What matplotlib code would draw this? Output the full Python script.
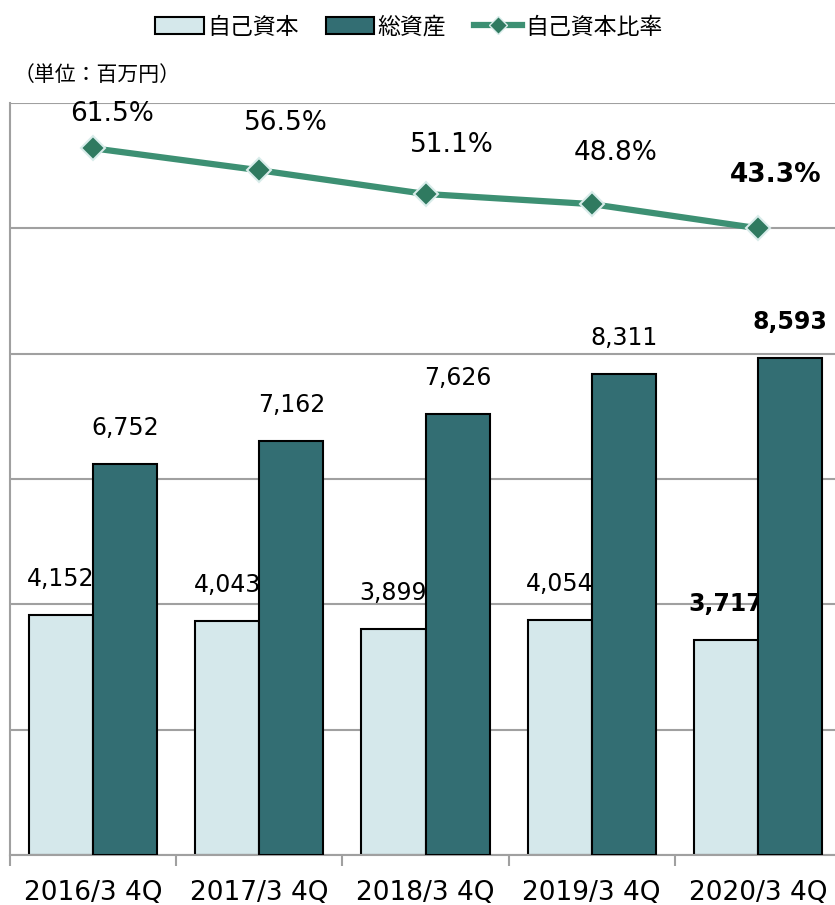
import matplotlib
matplotlib.use("Agg")
import matplotlib.pyplot as plt
import numpy as np
from matplotlib.lines import Line2D
from matplotlib.patches import Patch

plt.rcParams["font.family"] = ["DejaVu Sans", "Noto Sans CJK JP"]

# data
categories = ["2016/3 4Q", "2017/3 4Q", "2018/3 4Q", "2019/3 4Q", "2020/3 4Q"]
equity = [4152, 4043, 3899, 4054, 3717]
total_assets = [6752, 7162, 7626, 8311, 8593]
equity_ratio = [61.5, 56.5, 51.1, 48.8, 43.3]

LIGHT = "#d5e8eb"
DARK = "#336e73"
LINE = "#3d9073"
MARKER = "#2f7a60"
GRID = "#a0a0a0"

W, H = 835, 905
fig = plt.figure(figsize=(W / 100, H / 100), dpi=100)
# axes extends slightly past the right edge like the reference crop
ax = fig.add_axes([10 / W, 1 - 855 / H, 831 / W, 752 / H])

x = np.arange(len(categories))
bw = 0.386
last = len(categories) - 1

ax.bar(x - bw / 2, equity, bw, color=LIGHT, edgecolor="black", linewidth=1.5, zorder=2)
ax.bar(x + bw / 2, total_assets, bw, color=DARK, edgecolor="black", linewidth=1.5, zorder=4)

for i, v in enumerate(equity):
    ax.annotate(f"{v:,}", (x[i] - bw / 2, v), xytext=(0, 26), textcoords="offset points",
                ha="center", va="center", fontsize=17,
                fontweight="bold" if i == last else "normal", zorder=3)
for i, v in enumerate(total_assets):
    ax.annotate(f"{v:,}", (x[i] + bw / 2, v), xytext=(0, 26), textcoords="offset points",
                ha="center", va="center", fontsize=17,
                fontweight="bold" if i == last else "normal", zorder=5)

ymax = 13000
ax.set_ylim(0, ymax)
ax.set_xlim(-0.5, len(categories) - 0.5)
ax.set_yticks(np.linspace(0, ymax, 7))
ax.yaxis.grid(True, color=GRID, linewidth=1.5, zorder=0)
ax.set_axisbelow(True)
ax.tick_params(axis="y", length=0, labelleft=False)

ax.set_xticks(x)
ax.set_xticklabels(categories, fontsize=19)
ax.tick_params(axis="x", which="major", length=0, pad=18)
ax.set_xticks(np.arange(len(categories) + 1) - 0.5, minor=True)
ax.tick_params(axis="x", which="minor", length=8, width=1.5, color=GRID)

for s in ["top", "right"]:
    ax.spines[s].set_visible(False)
for s in ["left", "bottom"]:
    ax.spines[s].set_color(GRID)
    ax.spines[s].set_linewidth(1.5)

# ratio line on a secondary scale
ax2 = ax.twinx()
ax2.set_ylim(-99.3, 71.8)
ax2.plot(x, equity_ratio, color=LINE, linewidth=4.5, marker="D", markersize=12,
         markerfacecolor=MARKER, markeredgecolor="#d8ecea", markeredgewidth=1.5, zorder=6)
ax2.axis("off")

ratio_offsets = [(14, 25), (19, 34), (19, 35), (17, 37), (13, 38)]
for i, v in enumerate(equity_ratio):
    ax2.annotate(f"{v}%", (x[i], v), xytext=ratio_offsets[i], textcoords="offset points",
                 ha="center", va="center", fontsize=19,
                 fontweight="bold" if i == last else "normal")

handles = [
    Patch(facecolor=LIGHT, edgecolor="black", linewidth=1.5),
    Patch(facecolor=DARK, edgecolor="black", linewidth=1.5),
    Line2D([], [], color=LINE, linewidth=4.5, marker="D", markersize=9,
           markerfacecolor=MARKER, markeredgecolor="#d8ecea"),
]
labels = ["自己資本", "総資産", "自己資本比率"]
fig.legend(handles, labels, loc="center", bbox_to_anchor=(409 / W, 1 - 27 / H), ncol=3,
           frameon=False, handlelength=2.1, handleheight=0.8,
           handletextpad=0.15, columnspacing=1.2, prop={"family": ["Noto Sans CJK JP"], "size": 16.5})

fig.text(14 / W, 1 - 75 / H, "（単位：百万円）", fontsize=15, ha="left", va="center",
         family=["Noto Sans CJK JP"])

fig.savefig("out.png", dpi=100)
